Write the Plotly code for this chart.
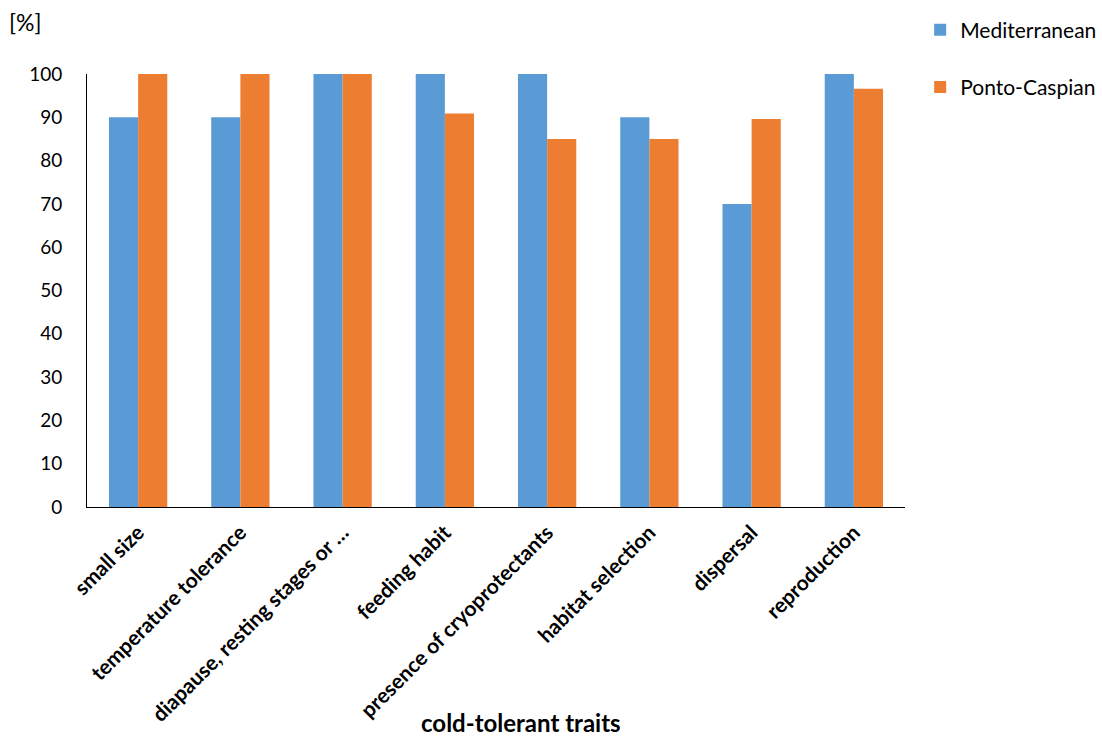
import plotly.graph_objects as go

traits = ["small size", "temperature tolerance", "diapause, resting stages or …",
          "feeding habit", "presence of cryoprotectants", "habitat selection",
          "dispersal", "reproduction"]
mediterranean = [90, 90, 100, 100, 100, 90, 70, 100]
ponto_caspian = [100, 100, 100, 90.9, 85, 85, 89.6, 96.6]

BLUE = "#5B9BD5"
ORANGE = "#ED7D31"
FONT = "Lato, 'Open Sans', sans-serif"

fig = go.Figure()
fig.add_trace(go.Bar(x=traits, y=mediterranean, name="Mediterranean",
                     marker=dict(color=BLUE, line=dict(width=0)), legendgroup="a"))
fig.add_trace(go.Bar(x=traits, y=ponto_caspian, name="Ponto-Caspian",
                     marker=dict(color=ORANGE, line=dict(width=0)), legendgroup="b"))

fig.update_layout(
    width=1102, height=740,
    margin=dict(l=87, r=197, t=74, b=233),
    paper_bgcolor="white", plot_bgcolor="white",
    barmode="group", bargap=0.43, bargroupgap=0,
    font=dict(family=FONT, color="black"),
    legend=dict(x=0.835, y=0.987, xref="container", yref="container",
                xanchor="left", yanchor="top",
                font=dict(size=21, family=FONT), tracegroupgap=27,
                itemwidth=30, bgcolor="rgba(0,0,0,0)"),
    xaxis=dict(showline=True, linecolor="black", linewidth=1, ticks="",
               tickangle=-45, tickfont=dict(size=21, family=FONT, color="black",
                                            weight="bold"),
               ticklabelstandoff=4, showgrid=False, automargin=False),
    yaxis=dict(range=[0, 100], dtick=10, showline=True, linecolor="black",
               linewidth=1, ticks="", showgrid=False, zeroline=False,
               ticklabelstandoff=20, automargin=False,
               tickfont=dict(size=19, family=FONT, color="black")),
    annotations=[
        dict(text="[%]", x=0, y=1, xref="paper", yref="paper",
             xshift=-80, yshift=68, xanchor="left", yanchor="top",
             showarrow=False, font=dict(size=23, family=FONT)),
        dict(text="<b>cold-tolerant traits</b>", x=0.53, y=0, xref="paper",
             yref="paper", yshift=-199, xanchor="center", yanchor="top",
             showarrow=False, font=dict(size=24, family=FONT)),
    ],
)

fig.write_html("out.html")
